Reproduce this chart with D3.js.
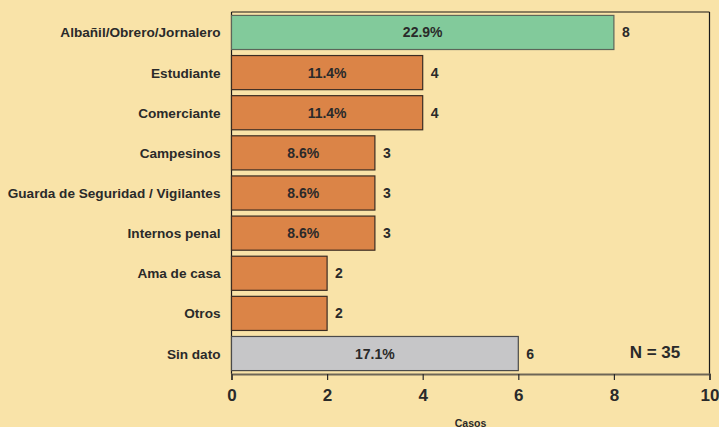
<!DOCTYPE html>
<html>
<head>
<meta charset="utf-8">
<script src="https://cdn.jsdelivr.net/npm/d3@7"></script>
<style>
  html, body { margin: 0; padding: 0; background: #f9e3a8; }
  svg { display: block; font-family: "Liberation Sans", Arial, sans-serif; font-weight: bold; }
</style>
</head>
<body>
<svg id="chart" width="719" height="427"></svg>
<script>
// categories, top to bottom
var categories = ["Albañil/Obrero/Jornalero", "Estudiante", "Comerciante", "Campesinos",
  "Guarda de Seguridad / Vigilantes", "Internos penal", "Ama de casa", "Otros", "Sin dato"];
var casos = [8, 4, 4, 3, 3, 3, 2, 2, 6];
var percents = ["22.9%", "11.4%", "11.4%", "8.6%", "8.6%", "8.6%", "", "", "17.1%"];
var groups = ["top", "mid", "mid", "mid", "mid", "mid", "mid", "mid", "nodata"];
var xTicks = [0, 2, 4, 6, 8, 10];
var totalN = 35;

var fills = { top: "#82ca9b", mid: "#db8447", nodata: "#c6c6c8" };
var strokes = { top: "#5c665a", mid: "#3b2c22", nodata: "#4a4a4a" };

var margin = { left: 231.5, right: 9.5, top: 12, bottom: 53 };
var W = 719, H = 427;

var svg = d3.select("#chart");

var x = d3.scaleLinear().domain([0, 10]).range([margin.left, W - margin.right]);
var y = d3.scaleBand().domain(categories)
  .range([margin.top + 1, H - margin.bottom - 1])
  .paddingInner(0.15).paddingOuter(0.06);

// frame
svg.append("line")
  .attr("x1", x(0)).attr("x2", x(10)).attr("y1", margin.top).attr("y2", margin.top)
  .attr("stroke", "#8a7d5e").attr("stroke-width", 2);
svg.append("line")
  .attr("x1", x(10)).attr("x2", x(10)).attr("y1", margin.top).attr("y2", H - margin.bottom)
  .attr("stroke", "#1a1a1a").attr("stroke-width", 1.2);
svg.append("line")
  .attr("x1", x(0)).attr("x2", x(0)).attr("y1", margin.top).attr("y2", H - margin.bottom)
  .attr("stroke", "#1a1a1a").attr("stroke-width", 1.2);

// bars
svg.selectAll("rect.bar")
  .data(categories)
  .enter().append("rect")
  .attr("class", "bar")
  .attr("x", x(0))
  .attr("y", function(d) { return y(d); })
  .attr("width", function(d, i) { return x(casos[i]) - x(0); })
  .attr("height", y.bandwidth())
  .attr("fill", function(d, i) { return fills[groups[i]]; })
  .attr("stroke", function(d, i) { return strokes[groups[i]]; })
  .attr("stroke-width", 1.2);

// percent labels inside bars
svg.selectAll("text.pct")
  .data(categories)
  .enter().append("text")
  .attr("class", "pct")
  .attr("x", function(d, i) { return (x(0) + x(casos[i])) / 2; })
  .attr("y", function(d) { return y(d) + y.bandwidth() / 2 + 5; })
  .attr("text-anchor", "middle")
  .attr("font-size", 14)
  .attr("fill", "#2a2a2a")
  .text(function(d, i) { return percents[i]; });

// count labels after bars
svg.selectAll("text.val")
  .data(categories)
  .enter().append("text")
  .attr("class", "val")
  .attr("x", function(d, i) { return x(casos[i]) + 8; })
  .attr("y", function(d) { return y(d) + y.bandwidth() / 2 + 5; })
  .attr("font-size", 14)
  .attr("fill", "#2a2a2a")
  .text(function(d, i) { return casos[i]; });

// category labels
svg.selectAll("text.cat")
  .data(categories)
  .enter().append("text")
  .attr("class", "cat")
  .attr("x", margin.left - 11)
  .attr("y", function(d) { return y(d) + y.bandwidth() / 2 + 5; })
  .attr("text-anchor", "end")
  .attr("font-size", 13.6)
  .attr("fill", "#2a2a2a")
  .text(function(d) { return d; });

// x axis
var xAxis = svg.append("g")
  .attr("transform", "translate(0," + (H - margin.bottom) + ")")
  .call(d3.axisBottom(x).tickValues(xTicks).tickSize(6).tickPadding(9).tickFormat(d3.format("d")));
xAxis.select(".domain").attr("stroke", "#6e6656").attr("stroke-width", 2);
xAxis.selectAll(".tick line").attr("stroke", "#2a2a2a").attr("stroke-width", 1.2);
xAxis.selectAll(".tick text")
  .attr("font-size", 17).attr("font-weight", "bold").attr("fill", "#2a2a2a")
  .attr("font-family", "Liberation Sans, Arial, sans-serif");

// axis title (sits right at the bottom edge, as in the source)
svg.append("text")
  .attr("x", (x(0) + x(10)) / 2)
  .attr("y", H - 0.5)
  .attr("text-anchor", "middle")
  .attr("font-size", 10.5)
  .attr("fill", "#2a2a2a")
  .text("Casos");

// N label
svg.append("text")
  .attr("x", x(8.33))
  .attr("y", y("Sin dato") + y.bandwidth() / 2 + 4)
  .attr("font-size", 17)
  .attr("fill", "#2a2a2a")
  .text("N = " + totalN);
</script>
</body>
</html>
